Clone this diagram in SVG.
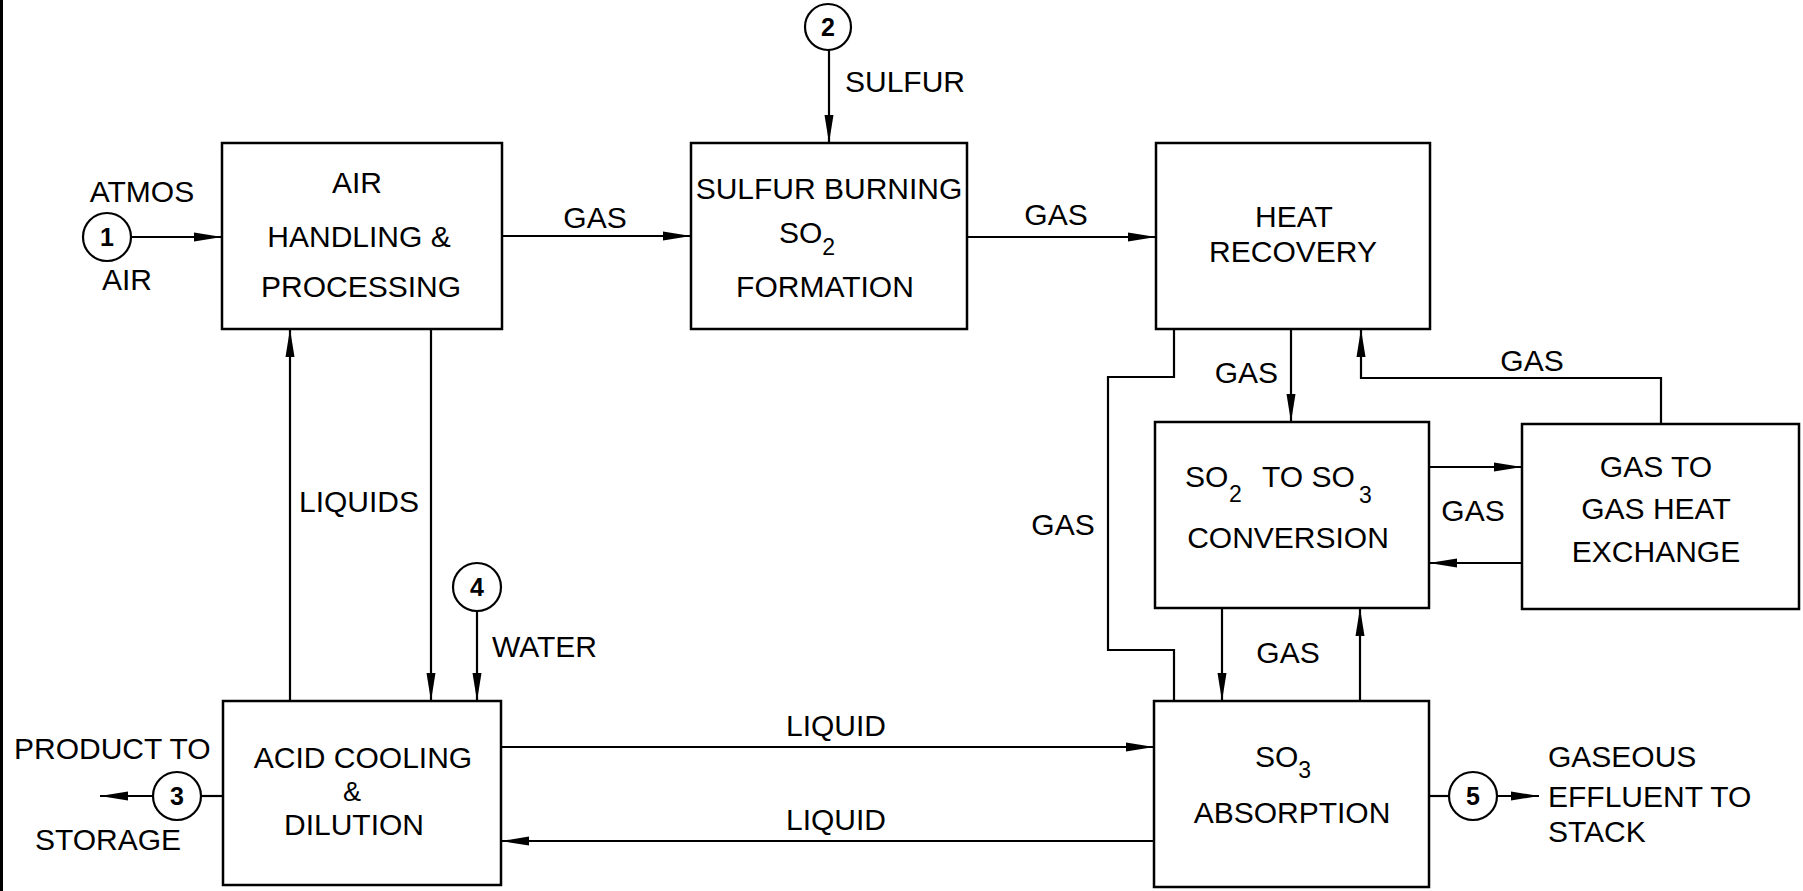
<svg xmlns="http://www.w3.org/2000/svg" width="1803" height="891" viewBox="0 0 1803 891">
<style>
.box{fill:none;stroke:#000;stroke-width:2.5}
.ln{fill:none;stroke:#000;stroke-width:2.2}
.ar{fill:none;stroke:#000;stroke-width:2.2;marker-end:url(#ah)}
.t{font-family:"Liberation Sans",Arial,sans-serif;font-size:30px;fill:#000}
.c{text-anchor:middle}
.sub{font-size:23px}
.cir{fill:#fff;stroke:#000;stroke-width:2.2}
.num{font-family:"Liberation Sans",Arial,sans-serif;font-size:25px;font-weight:bold;text-anchor:middle;fill:#000}
</style>
<defs>
<marker id="ah" viewBox="0 0 28 10" markerWidth="28" markerHeight="10" refX="28" refY="5" orient="auto" markerUnits="userSpaceOnUse">
<path d="M0,0.5 L28,5 L0,9.5 Z" fill="#000"/>
</marker>
</defs>
<rect width="1803" height="891" fill="#fff"/>
<line x1="1.5" y1="0" x2="1.5" y2="891" stroke="#000" stroke-width="3"/>

<g id="connectors">
<line class="ar" x1="131" y1="237" x2="222" y2="237"/>
<line class="ar" x1="502" y1="236" x2="691" y2="236"/>
<line class="ar" x1="829" y1="50" x2="829" y2="143"/>
<line class="ar" x1="967" y1="237" x2="1156" y2="237"/>
<line class="ar" x1="1291" y1="329" x2="1291" y2="422"/>
<polyline class="ar" points="1661,424 1661,378 1361,378 1361,329"/>
<line class="ar" x1="1429" y1="467" x2="1522" y2="467"/>
<line class="ar" x1="1522" y1="563" x2="1429" y2="563"/>
<line class="ar" x1="1222" y1="608" x2="1222" y2="701"/>
<line class="ar" x1="1360" y1="701" x2="1360" y2="608"/>
<polyline class="ln" points="1174,329 1174,377 1108,377 1108,650 1174,650 1174,701"/>
<line class="ar" x1="290" y1="701" x2="290" y2="329"/>
<line class="ar" x1="431" y1="329" x2="431" y2="701"/>
<line class="ar" x1="477" y1="611" x2="477" y2="701"/>
<line class="ar" x1="501" y1="747" x2="1154" y2="747"/>
<line class="ar" x1="1154" y1="841" x2="501" y2="841"/>
<line class="ln" x1="223" y1="796" x2="201" y2="796"/>
<line class="ar" x1="153" y1="796" x2="100" y2="796"/>
<line class="ln" x1="1429" y1="796" x2="1449" y2="796"/>
<line class="ar" x1="1497" y1="796" x2="1539" y2="796"/>
</g>

<g id="labels">
<text class="t c" x="142" y="202">ATMOS</text>
<text class="t c" x="127" y="290">AIR</text>
<text class="t c" x="595" y="228">GAS</text>
<text class="t" x="845" y="92">SULFUR</text>
<text class="t c" x="1056" y="225">GAS</text>
<text class="t" x="1278" y="383" text-anchor="end">GAS</text>
<text class="t c" x="1532" y="371">GAS</text>
<text class="t c" x="1473" y="521">GAS</text>
<text class="t c" x="1063" y="535">GAS</text>
<text class="t c" x="1288" y="663">GAS</text>
<text class="t" x="299" y="512">LIQUIDS</text>
<text class="t" x="492" y="657">WATER</text>
<text class="t c" x="836" y="736">LIQUID</text>
<text class="t c" x="836" y="830">LIQUID</text>
<text class="t" x="14" y="759">PRODUCT TO</text>
<text class="t c" x="108" y="850">STORAGE</text>
<text class="t" x="1548" y="767">GASEOUS</text>
<text class="t" x="1548" y="807">EFFLUENT TO</text>
<text class="t" x="1548" y="842">STACK</text>
</g>

<g id="stream1"><circle class="cir" cx="107" cy="237" r="24"/><text class="num" x="107" y="246">1</text></g>
<g id="stream2"><circle class="cir" cx="828" cy="27" r="23"/><text class="num" x="828" y="36">2</text></g>
<g id="stream3"><circle class="cir" cx="177" cy="796" r="24"/><text class="num" x="177" y="805">3</text></g>
<g id="stream4"><circle class="cir" cx="477" cy="587" r="24"/><text class="num" x="477" y="596">4</text></g>
<g id="stream5"><circle class="cir" cx="1473" cy="796" r="24"/><text class="num" x="1473" y="805">5</text></g>

<g id="air-handling">
<rect class="box" x="222" y="143" width="280" height="186"/>
<text class="t c" x="357" y="193">AIR</text>
<text class="t c" x="359" y="247">HANDLING &amp;</text>
<text class="t c" x="361" y="297">PROCESSING</text>
</g>
<g id="sulfur-burning">
<rect class="box" x="691" y="143" width="276" height="186"/>
<text class="t c" x="829" y="199">SULFUR BURNING</text>
<text class="t" x="779" y="243">SO<tspan class="sub" dy="12">2</tspan></text>
<text class="t c" x="825" y="297">FORMATION</text>
</g>
<g id="heat-recovery">
<rect class="box" x="1156" y="143" width="274" height="186"/>
<text class="t c" x="1294" y="227">HEAT</text>
<text class="t c" x="1293" y="262">RECOVERY</text>
</g>
<g id="so2-so3-conversion">
<rect class="box" x="1155" y="422" width="274" height="186"/>
<text class="t" x="1185" y="487">SO<tspan class="sub" x="1229" dy="15">2</tspan><tspan x="1262" dy="-15">TO SO</tspan><tspan class="sub" x="1359" dy="16">3</tspan></text>
<text class="t c" x="1288" y="548">CONVERSION</text>
</g>
<g id="gas-heat-exchange">
<rect class="box" x="1522" y="424" width="277" height="185"/>
<text class="t c" x="1656" y="477">GAS TO</text>
<text class="t c" x="1656" y="519">GAS HEAT</text>
<text class="t c" x="1656" y="562">EXCHANGE</text>
</g>
<g id="so3-absorption">
<rect class="box" x="1154" y="701" width="275" height="186"/>
<text class="t" x="1255" y="767">SO<tspan class="sub" dy="11">3</tspan></text>
<text class="t c" x="1292" y="823">ABSORPTION</text>
</g>
<g id="acid-cooling">
<rect class="box" x="223" y="701" width="278" height="184"/>
<text class="t c" x="363" y="768">ACID COOLING</text>
<text class="t c" x="352" y="801" style="font-size:27px">&amp;</text>
<text class="t c" x="354" y="835">DILUTION</text>
</g>
</svg>
